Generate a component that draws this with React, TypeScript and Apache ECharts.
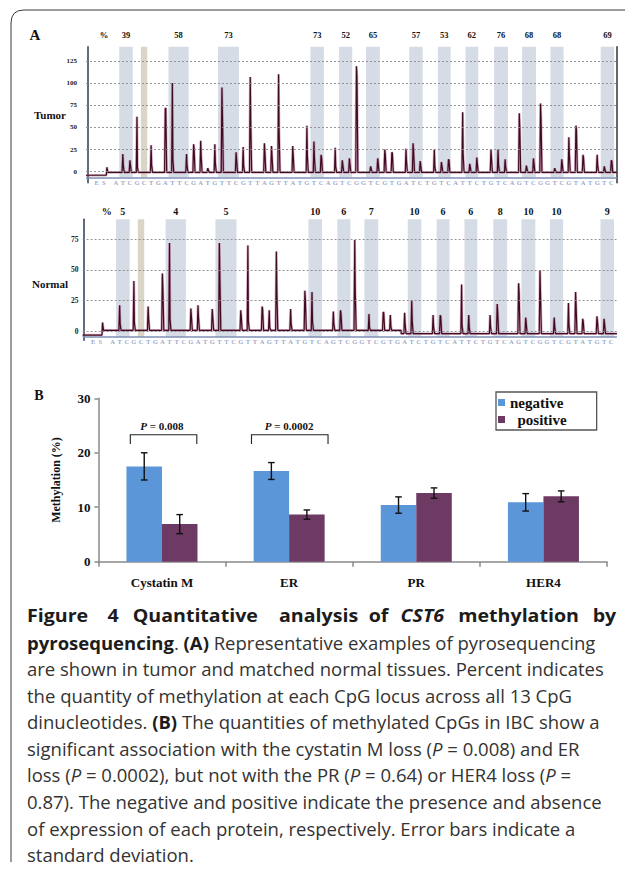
import { useEffect, useRef } from "react";
import * as echarts from "echarts";

const SERIF = '"Liberation Serif", "Times New Roman", serif';
const SANS = '"Open Sans", "Noto Sans", sans-serif';

// ---------- Panel A: pyrograms ----------
const prefixLetters = ["E", "S"];
const prefixLetterPos = [1.3, 2.3];
const firstDispensation = 4;
const dispensationOrder =
  "ATCGCTGATTCGATGTTCGTTAGTTATGTCAGTC" + "GGTCGTGATCTGTCATTCTGTCAGTCGGTCGTATGTC";

const bandStart = [4.5, 7.55, 11.45, 18.45, 31.5, 35.55, 39.35, 45.45, 49.5, 53.4, 57.45, 61.4, 65.4, 72.5];
const bandEnd = [6.4, 8.45, 14.3, 21.4, 33.4, 37.4, 41.3, 47.35, 51.3, 55.2, 59.4, 63.35, 67.25, 74.4];
const bandIsControl = [false, true, false, false, false, false, false, false, false, false, false, false, false, false];
const tumorPercent = ["39", "", "58", "73", "73", "52", "65", "57", "53", "62", "76", "68", "68", "69"];
const normalPercent = ["5", "", "4", "5", "10", "6", "7", "10", "6", "6", "8", "10", "10", "9"];

const tumorPeakPos = [5, 6, 7, 9, 11, 12, 14, 15, 16, 17, 18, 19, 21, 22, 23, 25, 26, 27, 29, 31, 32, 33, 35, 36, 37, 38, 40, 41, 42, 43, 45, 46, 47, 49, 50, 51, 53, 54, 55, 57, 58, 59, 61, 62, 63, 64, 66, 67, 68, 69, 70, 72, 73, 74];
const tumorPeakHeight = [20, 13, 62, 30, 71, 100, 20, 31, 35, 4, 31, 95, 22, 28, 107, 32, 29, 110, 29, 52, 34, 19, 27, 13, 15, 119, 6, 15, 25, 22, 26, 32, 12, 25, 11, 14, 67, 9, 16, 25, 25, 14, 66, 7, 15, 77, 4, 14, 39, 52, 19, 19, 6, 13];
const tumorShoulder = [7, 8, 5, 8, 72, 14, 7, 26, 17, 0, 10, 65, 0, 7, 55, 22, 0, 48, 0, 18, 15, 16, 6, 0, 0, 108, 0, 0, 20, 21, 12, 23, 12, 6, 0, 13, 20, 0, 9, 0, 8, 6, 50, 0, 0, 60, 0, 0, 20, 47, 16, 8, 0, 12];
const tumorStep = { pos: 2.75, height: 5, preBase: -4 };
const tumorBaseline = [-0.8];
const tumorBaselineBreaks: number[] = [];

const normalPeakPos = [5, 7, 9, 11, 12, 15, 16, 18, 19, 22, 23, 25, 26, 27, 29, 31, 32, 35, 36, 38, 40, 42, 43, 45, 46, 49, 50, 53, 54, 57, 58, 61, 62, 64, 66, 68, 69, 70, 72, 73];
const normalPeakHeight = [21, 41, 20, 47, 72, 18.5, 21, 18, 72, 17, 70, 20, 17, 65, 18, 33, 32, 16, 17, 74.5, 14, 15.5, 13, 15, 25, 13, 13, 38, 13, 13, 22, 39, 11, 50, 11, 23, 32, 10, 12, 10];
const normalShoulder = [6, 7, 10, 35, 10, 0, 11, 0, 43, 12, 8, 18, 3, 32, 6, 26, 8, 6, 14, 33, 3, 15, 4, 6, 8, 4, 12, 5, 3, 4, 15, 32, 0, 50, 4, 5, 21, 8, 8, 0];
const normalStep = { pos: 2.6, height: 7, preBase: -3.3 };
const normalBaseline = [0.6, -2.2];
const normalBaselineBreaks = [44.5];

const tumorTicks = [0, 25, 50, 75, 100, 125];
const normalTicks = [0, 25, 50, 75];

// ---------- Panel B: bar chart ----------
const categories = ["Cystatin M", "ER", "PR", "HER4"];
const negativeMean = [17.5, 16.65, 10.4, 10.9];
const positiveMean = [6.9, 8.65, 12.6, 12.0];
const negativeSD = [2.5, 1.55, 1.5, 1.6];
const positiveSD = [1.75, 0.85, 0.95, 1.0];
const bracketCategory = [0, 1];
const bracketPValue = ["0.008", "0.0002"];
const bracketTop = [23.3, 23.3];
const bracketLeg = [21.6, 21.6];
const bracketLabelY = [25.0, 25.0];
const bracketLeft = [-0.249, -0.296];
const bracketRight = [0.274, 0.306];

// ---------- Caption ----------
const captionTitleWords = [
  { t: "Figure", x: 27, italic: false },
  { t: "4", x: 107.6, italic: false },
  { t: "Quantitative", x: 132.7, italic: false },
  { t: "analysis", x: 279, italic: false },
  { t: "of", x: 368.7, italic: false },
  { t: "CST6", x: 400.6, italic: true },
  { t: "methylation", x: 458.3, italic: false },
  { t: "by", x: 592.7, italic: false },
];
const captionLines = [
  "{b|pyrosequencing}. {b|(A)} Representative examples of pyrosequencing",
  "are shown in tumor and matched normal tissues. Percent indicates",
  "the quantity of methylation at each CpG locus across all 13 CpG",
  "dinucleotides. {b|(B)} The quantities of methylated CpGs in IBC show a",
  "significant association with the cystatin M loss ({i|P} = 0.008) and ER",
  "loss ({i|P} = 0.0002), but not with the PR ({i|P} = 0.64) or HER4 loss ({i|P} =",
  "0.87). The negative and positive indicate the presence and absence",
  "of expression of each protein, respectively. Error bars indicate a",
  "standard deviation.",
];

echarts.graphic.registerShape(
  "frameOutline",
  echarts.graphic.extendPath("M625 10 L24 10 Q11 10 11 23 L11 862", {}) as any
);

const BAND = "#d5dce6";
const TAN = "#dbd5c7";
const TRACE = "#3f0b1f";
const HALO = "rgba(178,106,146,0.55)";

function makeBase(levels: number[], breaks: number[]) {
  return (x: number) => {
    let k = 0;
    while (k < breaks.length && x >= breaks[k]) k++;
    return levels[k];
  };
}

function buildTrace(
  pos: number[],
  h: number[],
  s: number[],
  step: { pos: number; height: number; preBase: number },
  levels: number[],
  breaks: number[]
) {
  const baseAt = makeBase(levels, breaks);
  const pts: number[][] = [
    [-0.2, step.preBase],
    [step.pos - 0.08, step.preBase],
    [step.pos, step.height],
    [step.pos + 0.14, baseAt(step.pos)],
  ];
  let lastX = step.pos + 0.14;
  const crossBreaks = (toX: number) => {
    breaks.forEach((br) => {
      if (lastX < br && toX >= br) {
        pts.push([br, baseAt(br - 0.001)], [br + 0.02, baseAt(br + 0.001)]);
      }
    });
  };
  for (let k = 0; k < pos.length; k++) {
    const p = pos[k];
    crossBreaks(p - 0.1);
    const b = baseAt(p);
    pts.push([p - 0.1, b], [p, h[k]]);
    if (s[k] > 0) pts.push([p + 0.07, s[k]]);
    pts.push([p + 0.2, b]);
    lastX = p + 0.2;
  }
  crossBreaks(74.8);
  pts.push([74.8, baseAt(74.8)]);
  return pts;
}

function letterData(rowY: number) {
  const d: any[] = prefixLetters.map((l, k) => [prefixLetterPos[k], rowY, l]);
  for (let k = 0; k < dispensationOrder.length; k++) {
    d.push([firstDispensation + k, rowY, dispensationOrder[k]]);
  }
  return d;
}

const multipleOf25 = (v: number) =>
  v >= 0 && Math.abs(v / 25 - Math.round(v / 25)) < 1e-6 ? String(Math.round(v)) : "";

function panelSeries(
  axisIdx: number,
  yIdx: number,
  percents: string[],
  pctPos: number,
  yMax: number,
  axisLineY: number,
  ticks: number[],
  labelSize: number,
  labelDist: number,
  trace: number[][],
  rowY: number
) {
  const areas: any[] = bandStart.map((s, k) => [
    {
      xAxis: s,
      yAxis: axisLineY,
      name: percents[k],
      itemStyle: { color: bandIsControl[k] ? TAN : BAND },
    },
    { xAxis: bandEnd[k], yAxis: yMax },
  ]);
  areas.push([
    { xAxis: pctPos - 0.2, yAxis: yMax - 0.6, name: "%", itemStyle: { color: "rgba(255,255,255,0)" } },
    { xAxis: pctPos + 0.2, yAxis: yMax },
  ]);
  const lines: any[] = ticks.map((v) => ({ yAxis: v }));
  lines.push({ yAxis: axisLineY, lineStyle: { type: "solid", color: "#7f90b5", width: 1.6 } });
  return [
    {
      type: "line",
      xAxisIndex: axisIdx,
      yAxisIndex: yIdx,
      data: [],
      symbol: "none",
      z: 1,
      silent: true,
      markArea: {
        silent: true,
        label: {
          show: true,
          position: "top",
          distance: labelDist,
          formatter: "{b}",
          fontFamily: SERIF,
          fontWeight: "bold",
          fontSize: labelSize,
          color: "#111",
        },
        data: areas,
      },
    },
    {
      type: "line",
      xAxisIndex: axisIdx,
      yAxisIndex: yIdx,
      data: [],
      symbol: "none",
      z: 2,
      silent: true,
      markLine: {
        silent: true,
        symbol: "none",
        label: { show: false },
        lineStyle: { type: [2, 2], color: "#8a8a8a", width: 0.9 },
        data: lines,
      },
    },
    {
      type: "line",
      xAxisIndex: axisIdx,
      yAxisIndex: yIdx,
      data: trace,
      symbol: "none",
      z: 3,
      silent: true,
      lineStyle: { color: HALO, width: 2.6 },
    },
    {
      type: "line",
      xAxisIndex: axisIdx,
      yAxisIndex: yIdx,
      data: trace,
      symbol: "none",
      z: 4,
      silent: true,
      lineStyle: { color: TRACE, width: 1.2 },
    },
    {
      type: "scatter",
      xAxisIndex: axisIdx,
      yAxisIndex: yIdx,
      data: letterData(rowY),
      symbolSize: 0,
      clip: false,
      z: 5,
      silent: true,
      label: {
        show: true,
        position: "inside",
        formatter: (p: any) => p.data[2],
        fontFamily: SERIF,
        fontWeight: "bold",
        fontSize: 6.5,
        color: "#7f90b8",
      },
    },
  ];
}

function buildOption(): any {
  const tumorTrace = buildTrace(tumorPeakPos, tumorPeakHeight, tumorShoulder, tumorStep, tumorBaseline, tumorBaselineBreaks);
  const normalTrace = buildTrace(normalPeakPos, normalPeakHeight, normalShoulder, normalStep, normalBaseline, normalBaselineBreaks);

  const BAR_W = 35.5;
  const CAP = 3.3;
  const errData: any[] = [];
  categories.forEach((_, k) => {
    errData.push([k, negativeMean[k] - negativeSD[k], negativeMean[k] + negativeSD[k], -1]);
    errData.push([k, positiveMean[k] - positiveSD[k], positiveMean[k] + positiveSD[k], 1]);
  });
  const bracketData = bracketCategory.map((c, k) => [
    c,
    bracketTop[k],
    bracketLeg[k],
    bracketLabelY[k],
    bracketLeft[k],
    bracketRight[k],
    k,
  ]);

  const axisGray = "#8a8a8a";

  const graphic: any[] = [
    {
      type: "frameOutline",
      x: 0,
      y: 0,
      silent: true,
      style: { stroke: "#3a3a3a", fill: "none", lineWidth: 1 },
    },
    {
      type: "text",
      x: 35,
      y: 35,
      style: { text: "A", font: `bold 15px ${SERIF}`, fill: "#111", align: "center", verticalAlign: "middle" },
    },
    {
      type: "text",
      x: 34,
      y: 114.5,
      style: { text: "Tumor", font: `bold 11px ${SERIF}`, fill: "#111", align: "left", verticalAlign: "middle" },
    },
    {
      type: "text",
      x: 32,
      y: 283.5,
      style: { text: "Normal", font: `bold 11px ${SERIF}`, fill: "#111", align: "left", verticalAlign: "middle" },
    },
    {
      type: "text",
      x: 39,
      y: 395,
      style: { text: "B", font: `bold 14px ${SERIF}`, fill: "#111", align: "center", verticalAlign: "middle" },
    },
  ];

  const CAP_SIZE = 18.5;
  const lineY0 = 615.6;
  const lineDy = 26.55;
  captionTitleWords.forEach((w) => {
    graphic.push({
      type: "text",
      x: w.x,
      y: lineY0,
      scaleX: 1.06,
      style: {
        text: w.t,
        fontFamily: SANS,
        fontSize: CAP_SIZE,
        fontWeight: "bold",
        fontStyle: w.italic ? "italic" : "normal",
        fill: "#1c1c1c",
        align: "left",
        verticalAlign: "middle",
      },
    });
  });
  captionLines.forEach((t, k) => {
    graphic.push({
      type: "text",
      x: 27,
      y: lineY0 + (k + 1) * lineDy,
      style: {
        text: t,
        fontFamily: SANS,
        fontSize: CAP_SIZE,
        fill: "#333",
        align: "left",
        verticalAlign: "middle",
        rich: {
          b: { fontFamily: SANS, fontSize: CAP_SIZE, fontWeight: "bold", fill: "#1c1c1c" },
          i: { fontFamily: SANS, fontSize: CAP_SIZE, fontStyle: "italic", fill: "#333" },
        },
      },
    });
  });

  return {
    animation: false,
    backgroundColor: "#ffffff",
    graphic,
    legend: {
      data: ["negative", "positive"],
      orient: "vertical",
      left: 496,
      top: 392,
      icon: "rect",
      itemWidth: 7,
      itemHeight: 7,
      itemGap: 2,
      padding: [3, 30, 3, 2],
      borderColor: "#555",
      borderWidth: 1.3,
      selectedMode: false,
      formatter: (n: string) => (n === "positive" ? "  " + n : n),
      textStyle: { fontFamily: SERIF, fontWeight: "bold", fontSize: 15, color: "#111" },
    },
    grid: [
      { left: 86, top: 46.8, width: 531, height: 136, containLabel: false, outerBoundsMode: "none" },
      { left: 82.6, top: 219.3, width: 534.3, height: 120.9, containLabel: false, outerBoundsMode: "none" },
      { left: 98.4, top: 398.3, width: 508.6, height: 163.4, containLabel: false, outerBoundsMode: "none" },
    ],
    xAxis: [
      { type: "value", gridIndex: 0, min: -0.2, max: 74.8, show: false },
      { type: "value", gridIndex: 1, min: -0.2, max: 74.8, show: false },
      {
        type: "category",
        gridIndex: 2,
        data: categories,
        axisLine: { lineStyle: { color: axisGray, width: 1.5 } },
        axisTick: { show: true, length: 5, lineStyle: { color: axisGray, width: 1.5 } },
        axisLabel: { fontFamily: SERIF, fontWeight: "bold", fontSize: 13, color: "#111", margin: 14 },
      },
    ],
    yAxis: [
      {
        type: "value",
        gridIndex: 0,
        min: -12.5,
        max: 141,
        interval: 12.5,
        axisLine: { show: true, lineStyle: { color: "#2e3b55", width: 1.5 } },
        axisTick: { show: false },
        splitLine: { show: false },
        axisLabel: {
          formatter: multipleOf25,
          fontFamily: SERIF,
          fontWeight: "bold",
          fontSize: 7,
          color: "#222",
          margin: 9,
        },
      },
      {
        type: "value",
        gridIndex: 0,
        position: "right",
        min: -12.5,
        max: 141,
        interval: 12.5,
        axisLine: { show: true, lineStyle: { color: "#333", width: 1.5 } },
        axisTick: { show: false },
        splitLine: { show: false },
        axisLabel: { show: false },
      },
      {
        type: "value",
        gridIndex: 1,
        min: -7.5,
        max: 91.4,
        interval: 2.5,
        axisLine: { show: true, lineStyle: { color: "#2e3b55", width: 1.5 } },
        axisTick: { show: false },
        splitLine: { show: false },
        axisLabel: {
          formatter: multipleOf25,
          fontFamily: SERIF,
          fontWeight: "bold",
          fontSize: 7.5,
          color: "#222",
          margin: 4,
        },
      },
      {
        type: "value",
        gridIndex: 2,
        min: 0,
        max: 30,
        interval: 10,
        name: "Methylation (%)",
        nameLocation: "middle",
        nameRotate: 90,
        nameGap: 36,
        nameTextStyle: { fontFamily: SERIF, fontWeight: "bold", fontSize: 12, color: "#111" },
        axisLine: { show: true, lineStyle: { color: axisGray, width: 1.5 } },
        axisTick: { show: true, length: 4, lineStyle: { color: axisGray, width: 1.5 } },
        splitLine: { show: false },
        axisLabel: { fontFamily: SERIF, fontWeight: "bold", fontSize: 13, color: "#111", margin: 8 },
      },
    ],
    series: [
      ...panelSeries(0, 0, tumorPercent, 2.35, 141, -6.3, tumorTicks, 8.5, 7, tumorTrace, -11.6),
      ...panelSeries(1, 2, normalPercent, 3.2, 91.4, -4.9, normalTicks, 10, 3, normalTrace, -8.2),
      {
        name: "negative",
        type: "bar",
        xAxisIndex: 2,
        yAxisIndex: 3,
        data: negativeMean,
        barWidth: BAR_W,
        barGap: "0%",
        itemStyle: { color: "#5b97d8" },
      },
      {
        name: "positive",
        type: "bar",
        xAxisIndex: 2,
        yAxisIndex: 3,
        data: positiveMean,
        barWidth: BAR_W,
        barGap: "0%",
        itemStyle: { color: "#6c3a62" },
      },
      {
        type: "custom",
        xAxisIndex: 2,
        yAxisIndex: 3,
        data: errData,
        encode: { x: 0, y: [1, 2] },
        z: 10,
        silent: true,
        renderItem: (_params: any, api: any) => {
          const cat = api.value(0);
          const lo = api.coord([cat, api.value(1)]);
          const hi = api.coord([cat, api.value(2)]);
          const x = lo[0] + api.value(3) * (BAR_W / 2);
          const st = { stroke: "#111", lineWidth: 1.4 };
          return {
            type: "group",
            children: [
              { type: "line", shape: { x1: x, y1: lo[1], x2: x, y2: hi[1] }, style: st },
              { type: "line", shape: { x1: x - CAP, y1: hi[1], x2: x + CAP, y2: hi[1] }, style: st },
              { type: "line", shape: { x1: x - CAP, y1: lo[1], x2: x + CAP, y2: lo[1] }, style: st },
            ],
          };
        },
      },
      {
        type: "custom",
        xAxisIndex: 2,
        yAxisIndex: 3,
        data: bracketData,
        encode: { x: 0, y: 1 },
        z: 10,
        silent: true,
        renderItem: (_params: any, api: any) => {
          const cat = api.value(0);
          const top = api.coord([cat, api.value(1)]);
          const leg = api.coord([cat, api.value(2)]);
          const lab = api.coord([cat, api.value(3)]);
          const w = api.size([1, 0])[0];
          const xl = top[0] + api.value(4) * w;
          const xr = top[0] + api.value(5) * w;
          const k = api.value(6);
          return {
            type: "group",
            children: [
              {
                type: "polyline",
                shape: { points: [[xl, leg[1]], [xl, top[1]], [xr, top[1]], [xr, leg[1]]] },
                style: { stroke: "#222", lineWidth: 1.1, fill: "none" },
              },
              {
                type: "text",
                x: lab[0],
                y: lab[1],
                style: {
                  text: "{i|P} = " + bracketPValue[k],
                  fontFamily: SERIF,
                  fontWeight: "bold",
                  fontSize: 11,
                  fill: "#111",
                  align: "center",
                  verticalAlign: "middle",
                  rich: {
                    i: { fontFamily: SERIF, fontWeight: "bold", fontStyle: "italic", fontSize: 11, fill: "#111" },
                  },
                },
              },
            ],
          };
        },
      },
    ],
  };
}

export default function App() {
  const ref = useRef<HTMLDivElement>(null);
  useEffect(() => {
    if (!ref.current) return;
    const chart = echarts.init(ref.current, null, { renderer: "svg" });
    chart.setOption(buildOption());
    return () => chart.dispose();
  }, []);
  return (
    <div
      ref={ref}
      style={{ position: "fixed", left: 0, top: 0, width: 625, height: 872, background: "#fff" }}
    />
  );
}
